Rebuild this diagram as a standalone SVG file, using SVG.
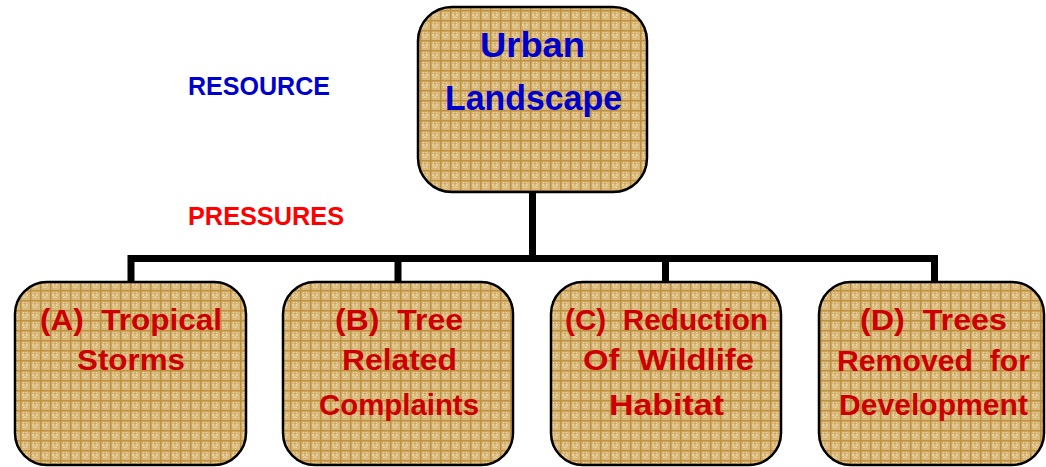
<svg xmlns="http://www.w3.org/2000/svg" width="1046" height="467" viewBox="0 0 1046 467">
<defs>
<pattern id="weave" width="10" height="10" patternUnits="userSpaceOnUse">
<rect width="10" height="10" fill="#d8b87a"/>
<rect x="3" y="2" width="1" height="1" fill="#ead6a8"/>
<rect x="6" y="2" width="1" height="1" fill="#ead6a8"/>
<rect x="2" y="4" width="2" height="2" fill="#e6cf9c"/>
<rect x="6" y="4" width="2" height="2" fill="#e6cf9c"/>
<rect x="4" y="3" width="2" height="1" fill="#cfa866"/>
<rect x="3" y="7" width="1" height="1" fill="#ead6a8"/>
<rect x="6" y="7" width="1" height="1" fill="#ead6a8"/>
<rect x="4" y="6" width="2" height="2" fill="#e2c88f"/>
<rect x="0" y="0" width="10" height="1.5" fill="#bf9040"/>
<rect x="0" y="0" width="1.5" height="10" fill="#bf9040"/>
</pattern>
<style>
.box{fill:url(#weave);stroke:#000;stroke-width:2.5}
.conn{fill:none;stroke:#000;stroke-width:7;stroke-linejoin:miter;stroke-linecap:butt}
.t{font-family:"Liberation Sans",Arial,sans-serif;font-weight:bold;text-anchor:middle}
.top{fill:#0000cc;font-size:35px}
.bot{fill:#cc0000;font-size:30px}
.lbl{font-family:"Liberation Sans",Arial,sans-serif;font-weight:bold;font-size:25px}
</style>
</defs>
<rect width="1046" height="467" fill="#fff"/>
<g id="connectors">
<path class="conn" d="M532.5,192 V258.5 M131,282 V258.5 H934.5 V282 M398,258.5 V282 M665.5,258.5 V282"/>
</g>
<g id="labels">
<text class="lbl" x="188" y="95" fill="#0000cc" textLength="142" lengthAdjust="spacingAndGlyphs">RESOURCE</text>
<text class="lbl" x="188" y="225" fill="#ff0000" textLength="156" lengthAdjust="spacingAndGlyphs">PRESSURES</text>
</g>
<g id="node-urban">
<rect class="box" x="418" y="7" width="229" height="185" rx="34" ry="34"/>
<text class="t top" x="532.5" y="57" textLength="105" lengthAdjust="spacingAndGlyphs">Urban</text>
<text class="t top" x="533.5" y="110" textLength="177" lengthAdjust="spacingAndGlyphs">Landscape</text>
</g>
<g id="node-a">
<rect class="box" x="15" y="282" width="231" height="183" rx="32" ry="32"/>
<text class="t bot" x="131" y="330" xml:space="preserve" textLength="182" lengthAdjust="spacingAndGlyphs">(A)  Tropical</text>
<text class="t bot" x="131" y="370" textLength="108" lengthAdjust="spacingAndGlyphs">Storms</text>
</g>
<g id="node-b">
<rect class="box" x="283" y="282" width="230" height="183" rx="32" ry="32"/>
<text class="t bot" x="399" y="330" xml:space="preserve" textLength="128" lengthAdjust="spacingAndGlyphs">(B)  Tree</text>
<text class="t bot" x="399.5" y="370" textLength="115" lengthAdjust="spacingAndGlyphs">Related</text>
<text class="t bot" x="399" y="415" textLength="160" lengthAdjust="spacingAndGlyphs">Complaints</text>
</g>
<g id="node-c">
<rect class="box" x="551" y="282" width="230" height="183" rx="32" ry="32"/>
<text class="t bot" x="666.5" y="330" xml:space="preserve" textLength="203" lengthAdjust="spacingAndGlyphs">(C)  Reduction</text>
<text class="t bot" x="668.5" y="370" xml:space="preserve" textLength="171" lengthAdjust="spacingAndGlyphs">Of  Wildlife</text>
<text class="t bot" x="666.5" y="415" textLength="115" lengthAdjust="spacingAndGlyphs">Habitat</text>
</g>
<g id="node-d">
<rect class="box" x="819" y="282" width="225" height="183" rx="32" ry="32"/>
<text class="t bot" x="933.5" y="330" xml:space="preserve" textLength="147" lengthAdjust="spacingAndGlyphs">(D)  Trees</text>
<text class="t bot" x="933.5" y="371" xml:space="preserve" textLength="193" lengthAdjust="spacingAndGlyphs">Removed  for</text>
<text class="t bot" x="933.5" y="415" textLength="189" lengthAdjust="spacingAndGlyphs">Development</text>
</g>
</svg>
